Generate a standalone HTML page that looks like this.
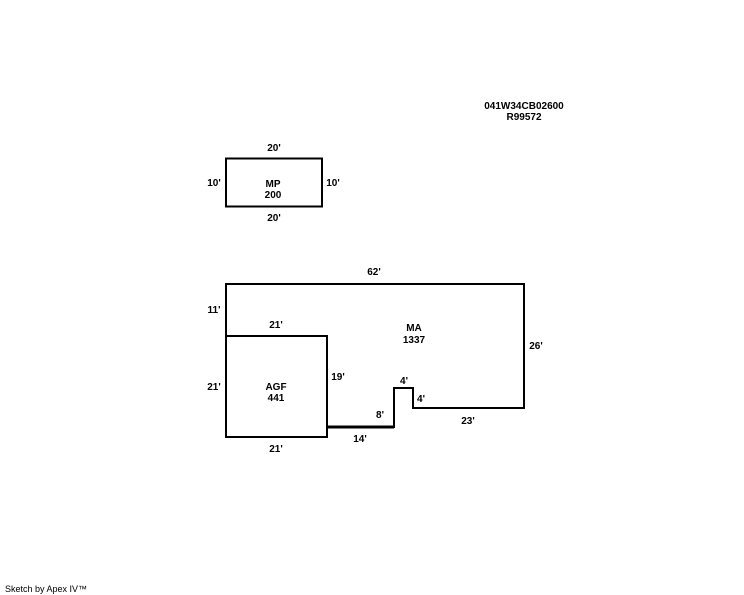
<!DOCTYPE html>
<html><head><style>
body{margin:0;background:#fff;}
svg{display:block;}
text{font-family:"Liberation Sans",Arial,sans-serif;font-size:10px;font-weight:bold;fill:#000;}
</style></head><body>
<svg width="744" height="595" viewBox="0 0 744 595">
<g fill="none" stroke="#000" stroke-width="2">
<rect x="226" y="158.5" width="96" height="48"/>
<path d="M226 336 V284 H524 V408 H413 V388 H394 V427 H327"/>
<rect x="226" y="336" width="101" height="101"/>
<path d="M327 427 H394" stroke-width="3"/>
</g>
<g text-anchor="middle">
<text x="524" y="109">041W34CB02600</text>
<text x="524" y="120">R99572</text>
<text x="274" y="151">20'</text>
<text x="214" y="186">10'</text>
<text x="333" y="186">10'</text>
<text x="273" y="187">MP</text>
<text x="273" y="198">200</text>
<text x="274" y="221">20'</text>
<text x="374" y="275">62'</text>
<text x="214" y="313">11'</text>
<text x="276" y="328">21'</text>
<text x="414" y="331">MA</text>
<text x="414" y="343">1337</text>
<text x="536" y="349">26'</text>
<text x="338" y="380">19'</text>
<text x="214" y="390">21'</text>
<text x="276" y="390">AGF</text>
<text x="276" y="401">441</text>
<text x="404" y="384">4'</text>
<text x="421" y="402">4'</text>
<text x="380" y="418">8'</text>
<text x="468" y="424">23'</text>
<text x="360" y="442">14'</text>
<text x="276" y="452">21'</text>
</g>
<text x="5" y="592" style="font-weight:normal;font-size:9px">Sketch by Apex IV™</text>
</svg>
</body></html>
